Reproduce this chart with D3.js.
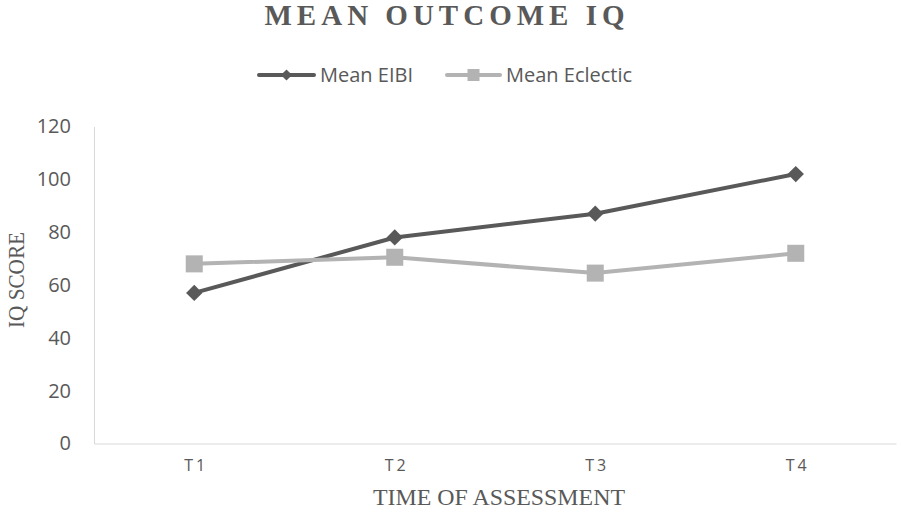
<!DOCTYPE html>
<html>
<head>
<meta charset="utf-8">
<script src="https://cdn.jsdelivr.net/npm/d3@7"></script>
<style>
  html, body { margin: 0; padding: 0; background: #ffffff; }
  svg { display: block; }
</style>
</head>
<body>
<svg id="chart" width="897" height="518"></svg>
<script>
// Assessment points and mean IQ scores per group
const categories = ["T1", "T2", "T3", "T4"];
const meanEIBI = [57, 78, 87, 102];
const meanEclectic = [68, 70.5, 64.5, 72];
const yTicks = [0, 20, 40, 60, 80, 100, 120];
const seriesNames = ["Mean EIBI", "Mean Eclectic"];

const dark = "#595959";
const light = "#b3b3b3";
const axisColor = "#d9d9d9";
const sans = "'Open Sans', sans-serif";
const serif = "'Liberation Serif', 'Times New Roman', serif";

const svg = d3.select("#chart");

const x = d3.scalePoint().domain(categories).range([94, 896]).padding(0.5);
const y = d3.scaleLinear().domain([0, 120]).range([443.5, 126.5]);

// Title
svg.append("text")
  .attr("x", 447).attr("y", 25)
  .attr("text-anchor", "middle")
  .style("font-family", serif)
  .style("font-weight", "bold")
  .style("font-size", "29px")
  .style("letter-spacing", "5px")
  .attr("fill", dark)
  .text("MEAN OUTCOME IQ");

// Y axis
const yAxis = svg.append("g")
  .attr("transform", "translate(94,0)")
  .call(d3.axisLeft(y).tickValues(yTicks).tickSize(0).tickPadding(23));
yAxis.select(".domain").attr("stroke", axisColor).attr("stroke-width", 1);
yAxis.selectAll("text")
  .style("font-family", sans).style("font-size", "20px")
  .attr("fill", dark);

// X axis
const xAxis = svg.append("g")
  .attr("transform", `translate(0,${y(0)})`)
  .call(d3.axisBottom(x).tickSize(0).tickSizeOuter(0).tickPadding(16));
xAxis.select(".domain").attr("stroke", axisColor).attr("stroke-width", 1);
xAxis.selectAll("text")
  .style("font-family", sans).style("font-size", "16px")
  .style("letter-spacing", "3px")
  .attr("dx", "1.5px")
  .attr("fill", dark);

// Axis titles
svg.append("text")
  .attr("x", 499).attr("y", 505)
  .attr("text-anchor", "middle")
  .attr("textLength", 252).attr("lengthAdjust", "spacingAndGlyphs")
  .style("font-family", serif).style("font-size", "24px")
  .attr("fill", dark)
  .text("TIME OF ASSESSMENT");

svg.append("text")
  .attr("transform", "translate(24,280) rotate(-90)")
  .attr("text-anchor", "middle")
  .attr("textLength", 96).attr("lengthAdjust", "spacingAndGlyphs")
  .style("font-family", serif).style("font-size", "24px")
  .attr("fill", dark)
  .text("IQ SCORE");

// Series
const series = [
  { name: seriesNames[0], values: meanEIBI, color: dark, shape: d3.symbolDiamond2, size: 170, lsize: 80 },
  { name: seriesNames[1], values: meanEclectic, color: light, shape: d3.symbolSquare, size: 290, lsize: 144 }
];

const line = d3.line()
  .x((d, i) => x(categories[i]))
  .y(d => y(d));

series.forEach(s => {
  svg.append("path")
    .datum(s.values)
    .attr("d", line)
    .attr("fill", "none")
    .attr("stroke", s.color)
    .attr("stroke-width", 4)
    .attr("stroke-linejoin", "round")
    .attr("stroke-linecap", "round");
  svg.append("g").selectAll("path")
    .data(s.values)
    .join("path")
    .attr("transform", (d, i) => `translate(${x(categories[i])},${y(d)})`)
    .attr("d", d3.symbol().type(s.shape).size(s.size))
    .attr("fill", s.color);
});

// Legend
const legendItems = [
  { x0: 259, x1: 314, tx: 320 },
  { x0: 447, x1: 500, tx: 506 }
];
series.forEach((s, k) => {
  const L = legendItems[k];
  const g = svg.append("g");
  g.append("line")
    .attr("x1", L.x0).attr("x2", L.x1)
    .attr("y1", 75).attr("y2", 75)
    .attr("stroke", s.color).attr("stroke-width", 4)
    .attr("stroke-linecap", "round");
  g.append("path")
    .attr("transform", `translate(${(L.x0 + L.x1) / 2},75)`)
    .attr("d", d3.symbol().type(s.shape).size(s.lsize))
    .attr("fill", s.color);
  g.append("text")
    .attr("x", L.tx).attr("y", 75)
    .attr("dy", "0.35em")
    .style("font-family", sans).style("font-size", "20px")
    .attr("fill", dark)
    .text(s.name);
});
</script>
</body>
</html>
